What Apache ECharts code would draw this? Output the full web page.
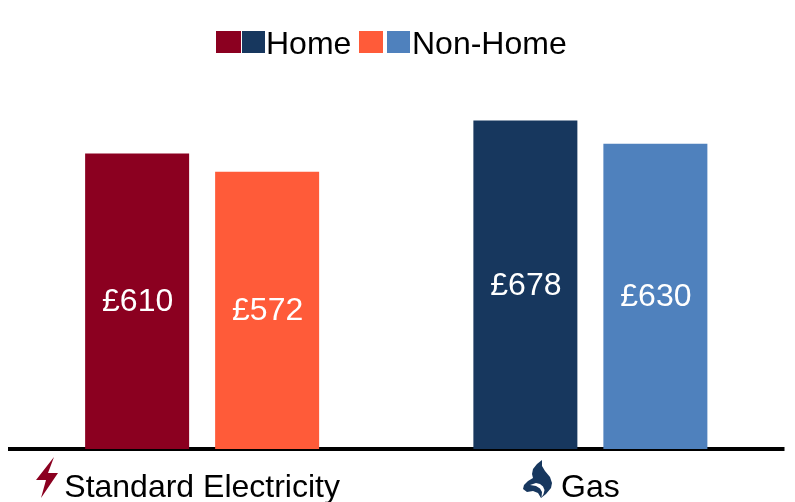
<!DOCTYPE html>
<html><head><meta charset="utf-8">
<style>html,body{margin:0;padding:0;background:#fff}#c{width:795px;height:502px}</style>
<script src="https://cdn.jsdelivr.net/npm/echarts@6/dist/echarts.min.js"></script>
</head><body><div id="c"></div>
<script>
const categories = ['Standard Electricity', 'Gas'];
const homeValues = [610, 678];
const nonHomeValues = [572, 630];
const homeColors = ['#8B0020', '#17375E'];
const nonHomeColors = ['#FF5B39', '#4F81BD'];
const legendNames = ['Home', 'Non-Home'];
const font = '"Liberation Sans", Arial, sans-serif';
const chart = echarts.init(document.getElementById('c'), null, {renderer: 'canvas'});
const colored = (vals, cols) => vals.map((v, i) => ({value: v, itemStyle: {color: cols[i]}}));
const lbl = {show: true, position: 'inside', offset: [0.5, 1], color: '#fff', fontFamily: font, fontSize: 32, formatter: p => '£' + p.value};
const rect = (x, w, fill) => ({type: 'rect', shape: {x, y: 31, width: w, height: 22}, style: {fill}, silent: true});
const txt = (x, text) => ({type: 'text', x, y: 45, style: {text, fontFamily: font, fontSize: 32, fill: '#000', textVerticalAlign: 'middle', textAlign: 'left'}, silent: true});
chart.setOption({
  animation: false,
  backgroundColor: '#fff',
  grid: {left: 8, right: 10.5, top: 61.4, height: 387.6, containLabel: false, outerBoundsMode: 'none'},
  xAxis: {type: 'category', data: categories, axisTick: {show: false},
    axisLine: {lineStyle: {color: '#000', width: 4, cap: 'butt'}},
    axisLabel: {color: '#000', fontFamily: font, fontSize: 32, margin: 23, interval: 0}},
  yAxis: {type: 'value', min: 0, max: 800, show: false, splitLine: {show: false}},
  series: [
    {name: legendNames[0], type: 'bar', barWidth: 104, barGap: '25%', data: colored(homeValues, homeColors), label: lbl},
    {name: legendNames[1], type: 'bar', barWidth: 104, data: colored(nonHomeValues, nonHomeColors), label: lbl}
  ],
  graphic: [
    rect(216, 25, homeColors[0]), rect(242, 23, homeColors[1]), txt(266, legendNames[0]),
    rect(359, 24, nonHomeColors[0]), rect(387, 23, nonHomeColors[1]), txt(412, legendNames[1]),
    {type: 'polygon', silent: true, shape: {points: [[54,457],[36,480],[46,480],[41,498],[58,473],[48,473]]}, style: {fill: '#8B0020'}},
    {type: 'polygon', silent: true, shape: {points: [[542,460],[537,464],[533,469],[532,474],[533,478],[528,481],[524,485],[523,489],[527,492],[533,491],[538,493],[541,498],[546,494],[551,488],[552,483],[550,477],[545,471],[542,466]]}, style: {fill: '#17375E'}},
    {type: 'polygon', silent: true, shape: {points: [[530,485],[536,483],[540,484],[543,486.5],[544.5,490],[543.5,494],[541.5,497.5],[542,492],[540,488.5],[536,486]]}, style: {fill: '#fff'}}
  ]
});
</script></body></html>
